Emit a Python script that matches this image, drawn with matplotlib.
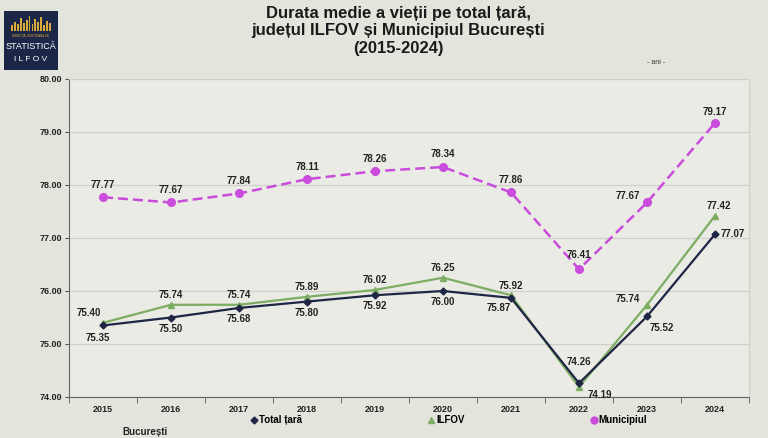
import matplotlib.pyplot as plt
from matplotlib.lines import Line2D
import numpy as np

plt.rcParams['font.family'] = ['Liberation Sans', 'DejaVu Sans']

# data
years = ['2015', '2016', '2017', '2018', '2019', '2020', '2021', '2022', '2023', '2024']
total_tara = [75.35, 75.50, 75.68, 75.80, 75.92, 76.00, 75.87, 74.26, 75.52, 77.07]
ilfov = [75.40, 75.74, 75.74, 75.89, 76.02, 76.25, 75.92, 74.19, 75.74, 77.42]
municipiul = [77.77, 77.67, 77.84, 78.11, 78.26, 78.34, 77.86, 76.41, 77.67, 79.17]
y_ticks = [74, 75, 76, 77, 78, 79, 80]

# label offsets (points) for each value
off_total = [(-4, -9), (0, -8), (0, -8), (0, -8), (0, -8), (0, -8), (-9, -7), (0, 15), (11, -8), (13, 0)]
off_ilfov = [(-10, 7), (0, 7), (0, 7), (0, 7), (0, 7), (0, 7), (0, 7), (15, -6), (-14, 4), (3, 7)]
off_muni = [(0, 9), (0, 9), (0, 9), (0, 9), (0, 9), (0, 9), (0, 9), (0, 10), (-14, 5), (0, 8)]

c_total = '#1f2545'
c_ilfov = '#7cad62'
c_muni = '#c94cdc'
bg = '#e3e4dc'

fig = plt.figure(figsize=(7.68, 4.38), dpi=100, facecolor=bg)
ax = fig.add_axes([69/768, 1-397/438, 680/768, 318/438], facecolor='#eaebe4')

x = np.arange(len(years))
ax.plot(x, total_tara, color=c_total, lw=1.6, marker='D', ms=3.5, zorder=4)
ax.plot(x, ilfov, color=c_ilfov, lw=1.6, marker='^', ms=4.5, zorder=3)
ax.plot(x, municipiul, color=c_muni, lw=1.8, ls=(0, (4, 2)), marker='o', ms=5.5, zorder=3)

for vals, offs in [(total_tara, off_total), (ilfov, off_ilfov), (municipiul, off_muni)]:
    for i, v in enumerate(vals):
        ax.annotate('%.2f' % v, (x[i], v), xytext=offs[i], textcoords='offset points',
                    ha='center', va='center', fontsize=7, fontweight='bold', color='#222222')

ax.set_xlim(-0.5, len(years) - 0.5)
ax.set_ylim(74, 80)
ax.set_yticks(y_ticks)
ax.set_yticklabels(['%.2f' % t for t in y_ticks], fontsize=6.5, fontweight='bold', color='#222222')
ax.set_xticks(x)
ax.set_xticklabels(years, fontsize=6.5, fontweight='bold', color='#222222')
ax.set_xticks(np.arange(-0.5, len(years)), minor=True)
ax.tick_params(axis='x', which='major', length=0, pad=6)
ax.tick_params(axis='x', which='minor', length=4, color='#555555')
ax.tick_params(axis='y', length=3, pad=2, color='#555555')
ax.grid(axis='y', color='#cfd0c7', lw=0.9)
ax.set_axisbelow(True)
for s in ['top', 'right']:
    ax.spines[s].set_color('#cfd0c7')
for s in ['left', 'bottom']:
    ax.spines[s].set_color('#666666')

# title
fig.text(398/768, 1-31/438, 'Durata medie a vieții pe total țară,\njudețul ILFOV și Municipiul București\n(2015-2024)',
         ha='center', va='center', fontsize=12, fontweight='bold', color='#1a1a1a', linespacing=1.2)
fig.text(656/768, 1-62/438, '- ani -', ha='center', va='center', fontsize=5, color='#333333')

# legend
handles = [Line2D([], [], color=c_total, marker='D', ms=3.5, ls='none'),
           Line2D([], [], color=c_ilfov, marker='^', ms=4.5, ls='none'),
           Line2D([], [], color=c_muni, marker='o', ms=5, ls='none')]
fig.legend(handles, ['Total țară', 'ILFOV', 'Municipiul'], loc='center left',
           bbox_to_anchor=(251/768, 1-420/438), ncol=3, frameon=False,
           prop={'size': 7, 'weight': 'bold'}, handlelength=0.6, handletextpad=0.2,
           columnspacing=13.0, borderpad=0, borderaxespad=0)
fig.text(145/768, 1-432/438, 'București', ha='center', va='center', fontsize=7, fontweight='bold', color='#222222')

# logo
lg = fig.add_axes([4/768, 1-70/438, 54/768, 59/438], facecolor='#1c2747')
lg.set_xlim(0, 1)
lg.set_ylim(0, 1)
lg.set_xticks([])
lg.set_yticks([])
for s in lg.spines.values():
    s.set_visible(False)
bar_h = [0.10, 0.16, 0.12, 0.22, 0.14, 0.18, 0.26, 0.12, 0.20, 0.15, 0.24, 0.11, 0.17, 0.13]
bx = np.linspace(0.15, 0.85, len(bar_h))
lg.bar(bx, bar_h, width=0.035, bottom=0.66, color='#d9a93a')
lg.text(0.5, 0.57, 'DIRECȚIA JUDEȚEANĂ DE', ha='center', va='center', fontsize=2.2, color='#d9a93a')
lg.text(0.5, 0.40, 'STATISTICĂ', ha='center', va='center', fontsize=6.5, color='white')
lg.text(0.5, 0.18, 'I L F O V', ha='center', va='center', fontsize=6, color='white')

fig.savefig('out.png', dpi=100, facecolor=bg)
